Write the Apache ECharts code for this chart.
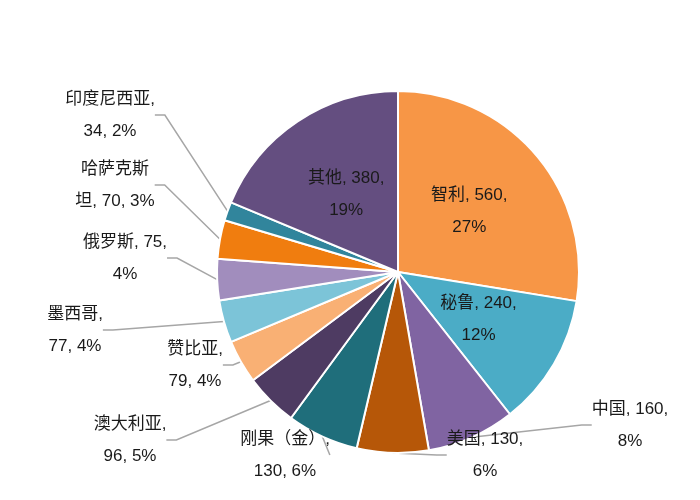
<!DOCTYPE html>
<html><head><meta charset="utf-8">
<script src="https://cdn.jsdelivr.net/npm/echarts@6/dist/echarts.min.js"></script>
<style>html,body{margin:0;background:#fff}#c{width:700px;height:500px}</style>
</head><body><div id="c"></div>
<script>
const names = ['智利','秘鲁','中国','美国','刚果（金）','澳大利亚','赞比亚','墨西哥','俄罗斯','哈萨克斯坦','印度尼西亚','其他'];
const values = [560,240,160,130,130,96,79,77,75,70,34,380];
const labelTexts = ['智利, 560,\n27%','秘鲁, 240,\n12%','中国, 160,\n8%','美国, 130,\n6%','刚果（金）,\n130, 6%','澳大利亚,\n96, 5%','赞比亚,\n79, 4%','墨西哥,\n77, 4%','俄罗斯, 75,\n4%','哈萨克斯\n坦, 70, 3%','印度尼西亚,\n34, 2%','其他, 380,\n19%'];
const colors = ['#F79646','#4BACC6','#8064A2','#B65708','#1F6E7B','#4E3B62','#F9B074','#7CC4D8','#A18DBD','#F07D0F','#31859C','#644E80'];
const inner = [0,1,11];
// label centre spots for the outside labels
const spots = {2:[630,425],3:[485,455],4:[285,455],5:[130,440],6:[195,365],7:[75,330],8:[125,258],9:[115,185],10:[110,115]};

const chart = echarts.init(document.getElementById('c'));
chart.setOption({
  animation:false,
  color:colors,
  series:[{
    type:'pie',
    center:[398,272],
    radius:[0,181],
    startAngle:90,
    clockwise:true,
    itemStyle:{borderColor:'#fff',borderWidth:2},
    label:{color:'#1a1a1a',fontSize:17,lineHeight:32,align:'center',
      fontFamily:'Liberation Sans, Noto Sans CJK SC',
      formatter:p=>labelTexts[p.dataIndex]},
    labelLine:{length:10,length2:10,lineStyle:{color:'#a6a6a6',width:1.5}},
    labelLayout:p=>{
      const s = spots[p.dataIndex];
      if(!s) return {};
      return {x:s[0],y:s[1],align:'center',verticalAlign:'middle'};
    },
    data:names.map((n,i)=>({name:n,value:values[i],
      label:inner.includes(i)?{position:'inner'}:{position:'outside'}}))
  }]
});
</script></body></html>
